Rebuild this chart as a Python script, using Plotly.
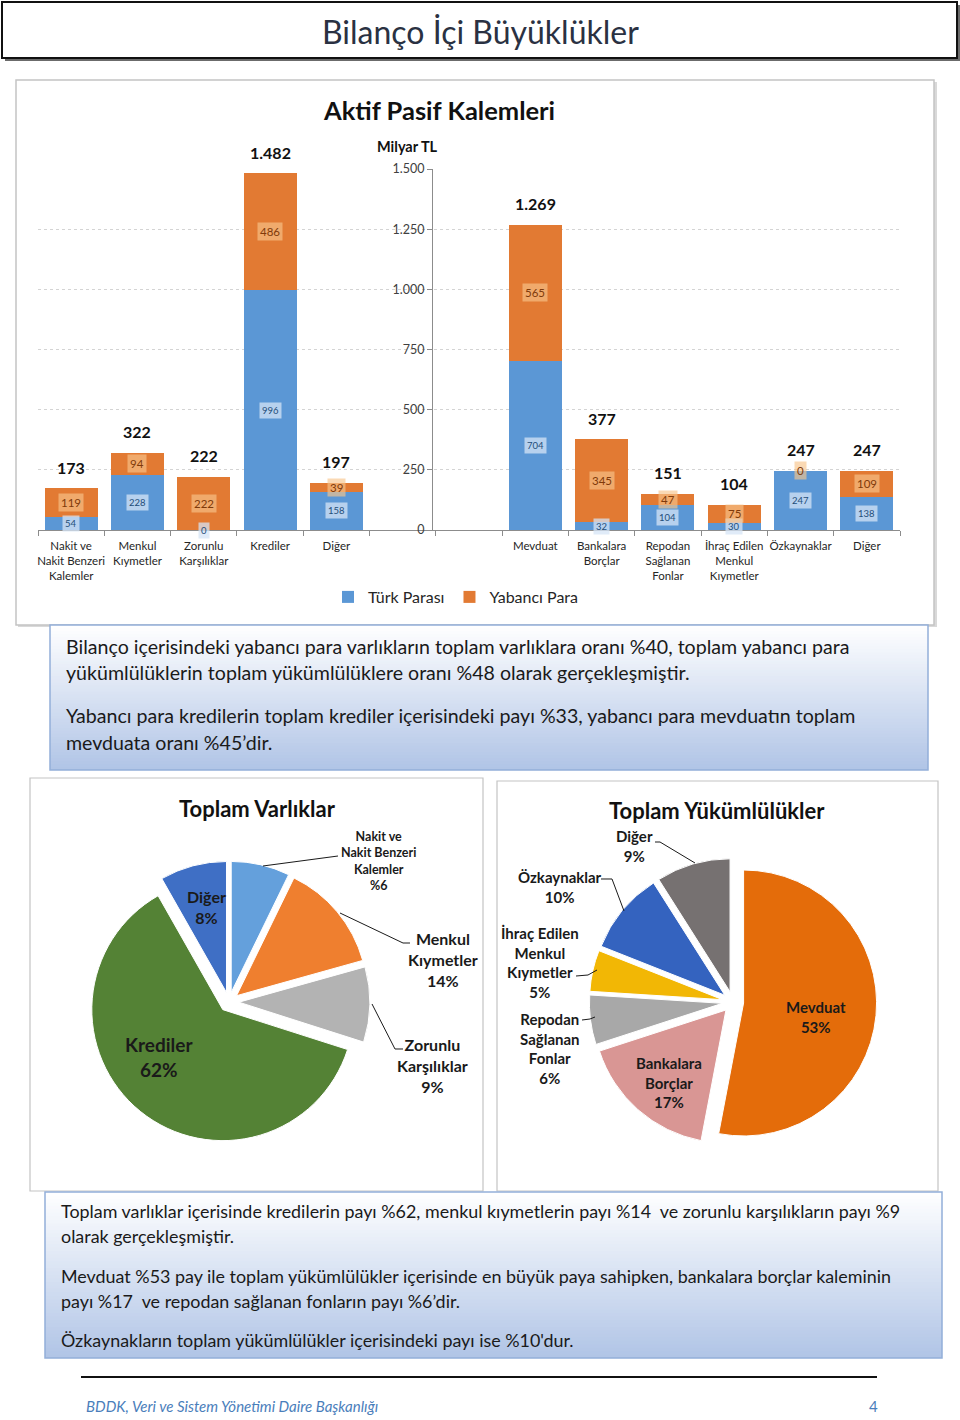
import plotly.graph_objects as go

W, H = 960, 1420
FONT = "Lato"


def X(p):
    return p / W


def Y(p):
    return 1 - p / H


# ---------------- data ----------------
asset_labels = ["Nakit ve<br>Nakit Benzeri<br>Kalemler", "Menkul<br>Kıymetler",
                "Zorunlu<br>Karşılıklar", "Krediler", "Diğer"]
asset_tp = [54, 228, 0, 996, 158]
asset_yp = [119, 94, 222, 486, 39]
asset_total = [173, 322, 222, 1482, 197]

liab_labels = ["Mevduat", "Bankalara<br>Borçlar", "Repodan<br>Sağlanan<br>Fonlar",
               "İhraç Edilen<br>Menkul<br>Kıymetler", "Özkaynaklar", "Diğer"]
liab_tp = [704, 32, 104, 30, 247, 138]
liab_yp = [565, 345, 47, 75, 0, 109]
liab_total = [1269, 377, 151, 104, 247, 247]

y_tick_vals = [0, 250, 500, 750, 1000, 1250, 1500]

asset_pie_names = ["Nakit ve Nakit Benzeri Kalemler", "Menkul Kıymetler",
                   "Zorunlu Karşılıklar", "Krediler", "Diğer"]
asset_pie_values = [173, 322, 222, 1482, 197]
asset_pie_pct = ["%6", "14%", "9%", "62%", "8%"]

liab_pie_names = ["Mevduat", "Bankalara Borçlar", "Repodan Sağlanan Fonlar",
                  "İhraç Edilen Menkul Kıymetler", "Özkaynaklar", "Diğer"]
liab_pie_share = [53, 17, 6, 5, 10, 9]
liab_pie_pct = ["53%", "17%", "6%", "5%", "10%", "9%"]

# ---------------- styles ----------------
BLUE = "#5b97d5"
ORANGE = "#e27a33"
TXT = "#1a1a1a"

asset_pie_colors = ["#64a0dc", "#ef7f2f", "#b3b3b3", "#548235", "#3f6fc5"]
liab_pie_colors = ["#e46c0a", "#d99694", "#a8a8a8", "#f2b705", "#3463bf", "#767171"]

asset_ids = ["A%d" % i for i in range(len(asset_tp))]
liab_ids = ["L%d" % i for i in range(len(liab_tp))]
gap_ids = ["G1", "G2"]
cat_order = asset_ids + gap_ids + liab_ids
tick_text = asset_labels + ["", ""] + liab_labels

ids = asset_ids + liab_ids
tp = asset_tp + liab_tp
yp = asset_yp + liab_yp
tot = asset_total + liab_total


def tr_fmt(v):
    return "{:,}".format(v).replace(",", ".")


fig = go.Figure()

fig.add_trace(go.Bar(x=ids, y=tp, name="Türk Parası", marker=dict(color=BLUE, line=dict(width=0)),
                     xaxis="x", yaxis="y", hoverinfo="skip"))
fig.add_trace(go.Bar(x=ids, y=yp, name="Yabancı Para", marker=dict(color=ORANGE, line=dict(width=0)),
                     xaxis="x", yaxis="y", hoverinfo="skip"))

# pies
LP = dict(cx=229, cy=1002, r=131, pull=0.075)
RP = dict(cx=733, cy=1002, r=133, pull=0.08)


def dom(p):
    h = p["r"] * (1 + p["pull"])
    return dict(x=[X(p["cx"] - h), X(p["cx"] + h)], y=[Y(p["cy"] + h), Y(p["cy"] - h)])


fig.add_trace(go.Pie(labels=asset_pie_names, values=asset_pie_values, sort=False, direction="clockwise",
                     rotation=0, pull=[LP["pull"]] * len(asset_pie_values),
                     marker=dict(colors=asset_pie_colors, line=dict(color="white", width=1)),
                     textinfo="none", showlegend=False, domain=dom(LP), hoverinfo="skip"))
fig.add_trace(go.Pie(labels=liab_pie_names, values=liab_pie_share, sort=False, direction="clockwise",
                     rotation=0, pull=[RP["pull"]] * len(liab_pie_share),
                     marker=dict(colors=liab_pie_colors, line=dict(color="white", width=1)),
                     textinfo="none", showlegend=False, domain=dom(RP), hoverinfo="skip"))

shapes = []
annotations = []


def rect(x0, y0, x1, y1, line_color=None, lw=1, fill=None, layer="below"):
    shapes.append(dict(type="rect", xref="paper", yref="paper", x0=X(x0), x1=X(x1), y0=Y(y1), y1=Y(y0),
                       line=dict(color=line_color or "rgba(0,0,0,0)", width=lw if line_color else 0),
                       fillcolor=fill or "rgba(0,0,0,0)", layer=layer))


def path(points, color="#1a1a1a", lw=1):
    d = "M " + " L ".join("%f,%f" % (X(a), Y(b)) for a, b in points)
    shapes.append(dict(type="path", xref="paper", yref="paper", path=d, line=dict(color=color, width=lw),
                       layer="above"))


def hexmix(c1, c2, t):
    a = [int(c1[i:i + 2], 16) for i in (1, 3, 5)]
    b = [int(c2[i:i + 2], 16) for i in (1, 3, 5)]
    return "#" + "".join("%02x" % round(a[k] + (b[k] - a[k]) * t) for k in range(3))


def grad_box(x0, y0, x1, y1, top, bottom, border, n=48):
    step = (y1 - y0) / n
    for k in range(n):
        t = (k + 0.5) / n
        rect(x0, y0 + k * step, x1, min(y1, y0 + (k + 1) * step + 0.8), fill=hexmix(top, bottom, t))
    rect(x0, y0, x1, y1, line_color=border, lw=1.5)


def text(x, y, s, size, color=TXT, bold=False, italic=False, xanchor="center", family=FONT):
    if bold:
        s = "<b>" + s + "</b>"
    if italic:
        s = "<i>" + s + "</i>"
    annotations.append(dict(x=X(x), y=Y(y), xref="paper", yref="paper", text=s, showarrow=False,
                            xanchor=xanchor, yanchor="middle",
                            font=dict(family=family, size=size, color=color)))


# ---- title box ----
rect(5, 5, 960, 61, fill="#6b6b6b")
rect(2, 2, 957, 58, line_color="#111111", lw=2, fill="white")
text(480, 32, "Bilanço İçi Büyüklükler", 32, color="#2a3142")

# ---- chart box ----
rect(18, 82, 937, 627, fill="#d9d9d9")
rect(16, 80, 934, 625, line_color="#c4c4c4", lw=1.5, fill="white")
text(439, 110, "Aktif Pasif Kalemleri", 25.5, color="#111111", bold=True)
text(407, 147, "Milyar TL", 14.5, color="#111111", bold=True)

# bar data labels
for i, cid in enumerate(ids):
    annotations.append(dict(x=cid, y=tp[i] / 2, xref="x", yref="y", text=str(tp[i]), showarrow=False,
                            font=dict(family=FONT, size=9.5, color="#1f4e79"),
                            bgcolor="rgba(214,228,245,0.75)", borderpad=2))
    annotations.append(dict(x=cid, y=tp[i] + yp[i] / 2, xref="x", yref="y", text=str(yp[i]),
                            showarrow=False, font=dict(family=FONT, size=11.5, color="#7f3a0a"),
                            bgcolor="rgba(247,196,140,0.65)", borderpad=2))
    annotations.append(dict(x=cid, y=tot[i], xref="x", yref="y", text="<b>" + tr_fmt(tot[i]) + "</b>",
                            showarrow=False, yshift=21, font=dict(family=FONT, size=16, color="#111111")))

# ---- text box 1 ----
grad_box(50, 625, 928, 770, "#ffffff", "#b0c4e6", "#93afd9")
p1 = [
    (646, "Bilanço içerisindeki yabancı para varlıkların toplam varlıklara oranı %40, toplam yabancı para"),
    (673, "yükümlülüklerin toplam yükümlülüklere oranı %48 olarak gerçekleşmiştir."),
    (715, "Yabancı para kredilerin toplam krediler içerisindeki payı %33, yabancı para mevduatın toplam"),
    (742, "mevduata oranı %45’dir."),
]
for yy, s in p1:
    text(64, yy, s, 19.6, xanchor="left")

# ---- pie boxes ----
rect(30, 778, 483, 1191, line_color="#c4c4c4", lw=1.2, fill="white")
rect(497, 781, 938, 1191, line_color="#c4c4c4", lw=1.2, fill="white")
text(257, 808, "Toplam Varlıklar", 22, color="#111111", bold=True)
text(717, 810, "Toplam Yükümlülükler", 22, color="#111111", bold=True)

# left pie labels
text(378, 861, "Nakit ve<br>Nakit Benzeri<br>Kalemler<br>" + asset_pie_pct[0], 12.5, bold=True)
text(443, 959, "Menkul<br>Kıymetler<br>" + asset_pie_pct[1], 16, bold=True)
text(432, 1065, "Zorunlu<br>Karşılıklar<br>" + asset_pie_pct[2], 16, bold=True)
text(159, 1057, "Krediler<br>" + asset_pie_pct[3], 19, bold=True)
text(206, 907, "Diğer<br>" + asset_pie_pct[4], 16, bold=True)
path([(263, 866), (338, 856)])
path([(340, 913), (403, 943), (410, 943)])
path([(372, 1004), (395, 1049), (403, 1049)])

# right pie labels
text(816, 1017, "Mevduat<br>" + liab_pie_pct[0], 15, bold=True)
text(669, 1082, "Bankalara<br>Borçlar<br>" + liab_pie_pct[1], 15, bold=True)
text(550, 1048, "Repodan<br>Sağlanan<br>Fonlar<br>" + liab_pie_pct[2], 15, bold=True)
text(540, 962, "İhraç Edilen<br>Menkul<br>Kıymetler<br>" + liab_pie_pct[3], 15, bold=True)
text(560, 887, "Özkaynaklar<br>" + liab_pie_pct[4], 15, bold=True)
text(634, 846, "Diğer<br>" + liab_pie_pct[5], 15, bold=True)
path([(655, 842), (660, 842), (695, 863)])
path([(601, 879), (612, 879), (624, 911)])
path([(576, 976), (588, 975), (597, 970)])
path([(582, 1020), (590, 1019), (595, 1017)])

# ---- text box 2 ----
grad_box(45, 1192, 942, 1358, "#ffffff", "#b0c4e6", "#93afd9")
p2 = [
    (1211, "Toplam varlıklar içerisinde kredilerin payı %62, menkul kıymetlerin payı %14\u00a0 ve zorunlu karşılıkların payı %9"),
    (1236, "olarak gerçekleşmiştir."),
    (1276, "Mevduat %53 pay ile toplam yükümlülükler içerisinde en büyük paya sahipken, bankalara borçlar kaleminin"),
    (1301, "payı %17\u00a0 ve repodan sağlanan fonların payı %6’dir."),
    (1340, "Özkaynakların toplam yükümlülükler içerisindeki payı ise %10'dur."),
]
for yy, s in p2:
    text(59, yy, s, 17.9, xanchor="left")

# ---- footer ----
path([(81, 1377), (877, 1377)], color="#111111", lw=2)
text(84, 1406, "BDDK, Veri ve Sistem Yönetimi Daire Başkanlığı", 15, color="#4a7ebb", italic=True,
     xanchor="left")
text(873, 1406, "4", 15, color="#4a7ebb")

fig.update_layout(
    template="none",
    width=W, height=H,
    margin=dict(l=0, r=0, t=0, b=0, pad=0),
    paper_bgcolor="white", plot_bgcolor="rgba(0,0,0,0)",
    font=dict(family=FONT, color=TXT),
    separators=",.",
    barmode="stack", bargap=0.2,
    shapes=shapes, annotations=annotations,
    showlegend=True,
    legend=dict(orientation="h", x=X(328), y=Y(597), xanchor="left", yanchor="middle",
                font=dict(family=FONT, size=16, color="#262626"), bgcolor="rgba(0,0,0,0)",
                itemwidth=30, traceorder="normal"),
    xaxis=dict(domain=[X(38), X(900)], type="category", categoryorder="array", categoryarray=cat_order,
               range=[-0.5, len(cat_order) - 0.5], tickmode="array", tickvals=cat_order, ticktext=tick_text,
               tickson="boundaries", ticks="outside", ticklen=5, tickcolor="#8c8c8c", tickangle=0,
               ticklabelstandoff=5,
               showline=True, linecolor="#8c8c8c", linewidth=1, showgrid=False, zeroline=False,
               tickfont=dict(family=FONT, size=11.5, color="#262626"), anchor="y", fixedrange=True),
    yaxis=dict(domain=[Y(530), Y(169)], range=[0, 1500], anchor="free", position=X(432),
               tickmode="array", tickvals=y_tick_vals, tickformat=",d", ticks="outside", ticklen=5,
               tickcolor="#8c8c8c", showline=True, linecolor="#8c8c8c", linewidth=1,
               showgrid=True, gridcolor="#d4d4d4", griddash="dot", gridwidth=1, zeroline=False,
               tickfont=dict(family=FONT, size=12.5, color="#404040"), fixedrange=True),
)

fig.write_html("out.html", config={"displayModeBar": False},
               post_script="document.body.style.margin='0';")
